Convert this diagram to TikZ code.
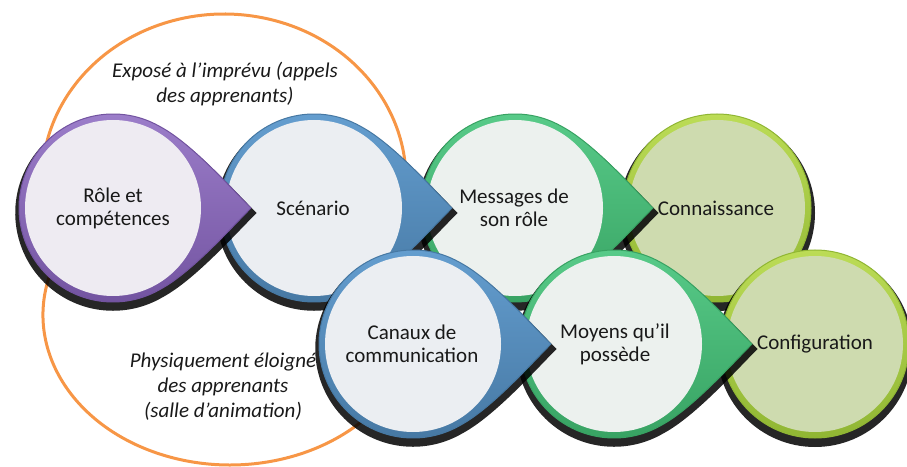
\documentclass[tikz,border=0pt]{standalone}
\usepackage{fontspec}
\setmainfont{Carlito}
\usetikzlibrary{positioning}

\definecolor{violetS}{HTML}{7253A0}
\definecolor{violetC}{HTML}{9E80CC}
\definecolor{violetI}{HTML}{EEEBF2}
\definecolor{bleuS}{HTML}{4678A3}
\definecolor{bleuC}{HTML}{66A0D2}
\definecolor{bleuI}{HTML}{EBEEF2}
\definecolor{vertS}{HTML}{37A262}
\definecolor{vertC}{HTML}{5ACD8B}
\definecolor{vertI}{HTML}{ECF1EE}
\definecolor{oliveS}{HTML}{90B633}
\definecolor{oliveC}{HTML}{BCDC56}
\definecolor{oliveI}{HTML}{CEDBAF}
\definecolor{orangeB}{HTML}{F79646}

\tikzset{
  bord/.style={draw=orangeB, line width=3},
  etiquette/.style={font=\fontsize{21}{23}\selectfont, align=center, text=black!90},
  remarque/.style={font=\fontsize{21}{25}\selectfont\itshape, align=center, text=black!90},
}

\newcommand{\gouttechemin}{(138,0) .. controls (117,21) and (78,65) .. (60:94) arc[start angle=60, end angle=300, radius=94] .. controls (78,-65) and (117,-21) .. cycle}
\newcommand{\goutte}[4]{%
  \begin{scope}[shift={(#1)}]
    \fill[black, opacity=0.85, yshift=-5, scale=1.04] \gouttechemin;
    \shadedraw[top color=#3, bottom color=#2, draw=#2, line width=1] \gouttechemin;
    \fill[#4] (0,0) circle (88);
  \end{scope}}
\newcommand{\rond}[4]{%
  \begin{scope}[shift={(#1)}]
    \fill[black, opacity=0.85, yshift=-5] (0,0) circle (98);
    \shadedraw[top color=#3, bottom color=#2, draw=#2, line width=1] (0,0) circle (94);
    \fill[#4] (0,0) circle (88);
  \end{scope}}

\begin{document}
\begin{tikzpicture}[x=1pt,y=1pt]
\useasboundingbox (0,0) rectangle (907,466);

\coordinate (haut) at (224,286);
\coordinate (bas) at (230,151);
\draw[bord] (haut) ++(-10:182 and 166) arc[start angle=-10, end angle=190, x radius=182, y radius=166];
\draw[bord] (bas) ++(160:187 and 150) arc[start angle=160, end angle=320, x radius=187, y radius=150];
\node[remarque] (expose) at (225,382) {Exposé à l’imprévu (appels\\des apprenants)};
\node[remarque] (eloigne) at (223,79) {Physiquement éloigné\\des apprenants\\(salle d’animation)};

\rond{717,258}{oliveS}{oliveC}{oliveI}
\goutte{515,258}{vertS}{vertC}{vertI}
\goutte{314,258}{bleuS}{bleuC}{bleuI}
\goutte{113,258}{violetS}{violetC}{violetI}

\rond{815,122}{oliveS}{oliveC}{oliveI}
\goutte{614,122}{vertS}{vertC}{vertI}
\goutte{413,122}{bleuS}{bleuC}{bleuI}

\node[etiquette] (role) at (113,258) {Rôle et\\compétences};
\node[etiquette] (scenario) at (313,258) {Scénario};
\node[etiquette] (messages) at (514,258) {Messages de\\son rôle};
\node[etiquette] (connaissance) at (716,258) {Connaissance};
\node[etiquette] (canaux) at (412,122) {Canaux de\\communication};
\node[etiquette] (moyens) at (615,122) {Moyens qu’il\\possède};
\node[etiquette] (configuration) at (815,122) {Configuration};
\end{tikzpicture}
\end{document}
